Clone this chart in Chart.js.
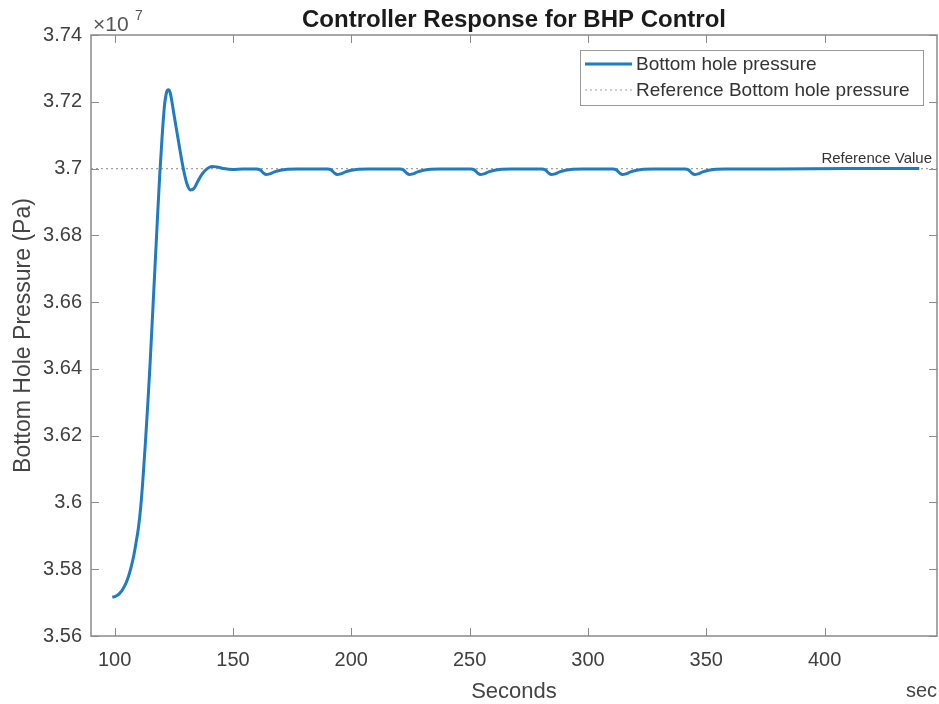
<!DOCTYPE html>
<html>
<head>
<meta charset="utf-8">
<title>Controller Response for BHP Control</title>
<script src="https://cdn.jsdelivr.net/npm/chart.js@4.4.1/dist/chart.umd.min.js"></script>
<style>
html, body { margin: 0; padding: 0; background: #fff; }
#wrap { width: 939px; height: 704px; }
</style>
</head>
<body>
<div id="wrap"><canvas id="bhpChart" width="939" height="704"></canvas></div>
<script>
// time in seconds, bottom hole pressure in units of 1e7 Pa
const timeSec = [
  99, 100, 101, 102, 103, 104, 105, 106, 107, 108, 109, 110, 111, 112, 113, 114, 115, 116, 117, 118, 119, 120, 121, 122,
  122.7, 123.5, 125, 127, 129, 130.5, 132, 133.5, 135, 137, 139, 141, 143, 146, 150, 154, 157,
  160, 161.5, 163, 164, 165.5, 167.5, 170, 173, 177,
  190, 191.5, 193, 194, 195.5, 197.5, 200, 203, 207,
  220.5, 222, 223.5, 224.5, 226, 228, 230.5, 233.5, 237.5,
  250.5, 252, 253.5, 254.5, 256, 258, 260.5, 263.5, 267.5,
  280.5, 282, 283.5, 284.5, 286, 288, 290.5, 293.5, 297.5,
  310.5, 312, 313.5, 314.5, 316, 318, 320.5, 323.5, 327.5,
  341, 342.5, 344, 345, 346.5, 348.5, 351, 354, 358,
  380, 410, 440
];
const bhpE7 = [
  3.5716, 3.5718, 3.5721, 3.5727, 3.5735, 3.5747, 3.5762, 3.5782, 3.5808, 3.5838, 3.5878, 3.5922, 3.5985, 3.6075, 3.6180, 3.6295, 3.6420, 3.6560, 3.6700, 3.6840, 3.6975, 3.7090, 3.7185, 3.7230,
  3.7236, 3.7226, 3.7165, 3.7080, 3.7000, 3.6955, 3.6936, 3.6940, 3.6960, 3.6984, 3.6999, 3.7006, 3.7005, 3.7000, 3.6997, 3.6999, 3.6999,
  3.6999, 3.6996, 3.6986, 3.6982, 3.6984, 3.6990, 3.6995, 3.6998, 3.6999,
  3.6999, 3.6996, 3.6986, 3.6982, 3.6984, 3.6990, 3.6995, 3.6998, 3.6999,
  3.6999, 3.6996, 3.6986, 3.6982, 3.6984, 3.6990, 3.6995, 3.6998, 3.6999,
  3.6999, 3.6996, 3.6986, 3.6982, 3.6984, 3.6990, 3.6995, 3.6998, 3.6999,
  3.6999, 3.6996, 3.6986, 3.6982, 3.6984, 3.6990, 3.6995, 3.6998, 3.6999,
  3.6999, 3.6996, 3.6986, 3.6982, 3.6984, 3.6990, 3.6995, 3.6998, 3.6999,
  3.6999, 3.6996, 3.6986, 3.6982, 3.6984, 3.6990, 3.6995, 3.6998, 3.6999,
  3.6999, 3.7000, 3.7000
];
const refTime = [90, 447.5];
const refBhpE7 = [3.7, 3.7];

const xTickValues = [100, 150, 200, 250, 300, 350, 400];
const yTickValues = [3.56, 3.58, 3.6, 3.62, 3.64, 3.66, 3.68, 3.7, 3.72, 3.74];
const yTickLabels = ['3.56', '3.58', '3.6', '3.62', '3.64', '3.66', '3.68', '3.7', '3.72', '3.74'];

const FONT = '"Liberation Sans", Arial, sans-serif';
const BLUE = '#1f7bc2';
const AXIS_GRAY = '#8a8a8a';

// MATLAB-like box, inward ticks, titles and legend
const matlabLook = {
  id: 'matlabLook',
  afterDraw(chart) {
    const { ctx, chartArea: a, scales: { x, y } } = chart;
    ctx.save();

    // box
    ctx.strokeStyle = AXIS_GRAY;
    ctx.lineWidth = 1.5;
    ctx.strokeRect(a.left, a.top, a.right - a.left, a.bottom - a.top);

    // inward ticks on all four sides
    ctx.lineWidth = 1;
    ctx.beginPath();
    xTickValues.forEach(v => {
      const px = Math.round(x.getPixelForValue(v)) + 0.5;
      ctx.moveTo(px, a.bottom); ctx.lineTo(px, a.bottom - 8);
      ctx.moveTo(px, a.top); ctx.lineTo(px, a.top + 8);
    });
    yTickValues.forEach(v => {
      const py = Math.round(y.getPixelForValue(v)) + 0.5;
      ctx.moveTo(a.left, py); ctx.lineTo(a.left + 8, py);
      ctx.moveTo(a.right, py); ctx.lineTo(a.right - 8, py);
    });
    ctx.stroke();

    // title
    ctx.fillStyle = '#1a1a1a';
    ctx.font = 'bold 24px ' + FONT;
    ctx.textAlign = 'center';
    ctx.textBaseline = 'alphabetic';
    ctx.fillText('Controller Response for BHP Control', (a.left + a.right) / 2, 27);

    // exponent label
    ctx.fillStyle = '#555';
    ctx.textAlign = 'left';
    ctx.font = '21px ' + FONT;
    ctx.fillText('\u00d710', a.left + 2, 31);
    ctx.font = '14px ' + FONT;
    ctx.fillText('7', a.left + 44, 20);

    // axis titles
    ctx.fillStyle = '#444';
    ctx.font = '22px ' + FONT;
    ctx.textAlign = 'center';
    ctx.fillText('Seconds', (a.left + a.right) / 2, 698);
    ctx.textAlign = 'right';
    ctx.font = '20px ' + FONT;
    ctx.fillText('sec', a.right, 697);

    ctx.save();
    ctx.translate(30, (a.top + a.bottom) / 2);
    ctx.rotate(-Math.PI / 2);
    ctx.textAlign = 'center';
    ctx.font = '23px ' + FONT;
    ctx.fillText('Bottom Hole Pressure (Pa)', 0, 0);
    ctx.restore();

    // reference annotation
    ctx.font = '15px ' + FONT;
    ctx.textAlign = 'right';
    ctx.fillStyle = '#333';
    ctx.fillText('Reference Value', a.right - 5, y.getPixelForValue(3.7) - 6);

    // legend
    const lx = a.right - 357, ly = a.top + 15, lw = 343, lh = 55;
    ctx.fillStyle = '#fff';
    ctx.fillRect(lx, ly, lw, lh);
    ctx.strokeStyle = '#999';
    ctx.lineWidth = 1;
    ctx.strokeRect(lx + 0.5, ly + 0.5, lw, lh);
    chart.data.datasets.forEach((ds, i) => {
      const ry = ly + 14 + i * 26;
      ctx.save();
      ctx.strokeStyle = ds.borderColor;
      ctx.lineWidth = ds.borderWidth;
      ctx.setLineDash(ds.borderDash || []);
      ctx.beginPath();
      ctx.moveTo(lx + 5, ry); ctx.lineTo(lx + 52, ry);
      ctx.stroke();
      ctx.restore();
      ctx.fillStyle = '#333';
      ctx.font = '19px ' + FONT;
      ctx.textAlign = 'left';
      ctx.textBaseline = 'middle';
      ctx.fillText(ds.label, lx + 56, ry + 1);
    });

    ctx.restore();
  }
};

new Chart(document.getElementById('bhpChart'), {
  type: 'line',
  data: {
    datasets: [
      {
        label: 'Bottom hole pressure',
        data: timeSec.map((t, i) => ({ x: t, y: bhpE7[i] })),
        borderColor: BLUE,
        borderWidth: 3,
        pointRadius: 0,
        cubicInterpolationMode: 'monotone',
        fill: false,
        order: 1
      },
      {
        label: 'Reference Bottom hole pressure',
        data: refTime.map((t, i) => ({ x: t, y: refBhpE7[i] })),
        borderColor: '#a0a0a0',
        borderWidth: 1.2,
        borderDash: [2, 3],
        pointRadius: 0,
        fill: false,
        order: 2
      }
    ]
  },
  options: {
    responsive: false,
    animation: false,
    layout: { padding: { top: 35, right: 2, left: 0, bottom: 0 } },
    plugins: {
      legend: { display: false },
      title: { display: false },
      tooltip: { enabled: false }
    },
    scales: {
      x: {
        type: 'linear',
        min: 90,
        max: 447.5,
        grid: { display: false, drawTicks: false },
        border: { display: false },
        afterBuildTicks: s => { s.ticks = xTickValues.map(v => ({ value: v })); },
        afterFit: s => { s.height = 68; },
        ticks: {
          color: '#404040',
          font: { family: FONT, size: 20 },
          padding: 12,
          maxRotation: 0,
          callback: v => String(v)
        }
      },
      y: {
        type: 'linear',
        min: 3.56,
        max: 3.74,
        grid: { display: false, drawTicks: false },
        border: { display: false },
        afterBuildTicks: s => { s.ticks = yTickValues.map(v => ({ value: v })); },
        afterFit: s => { s.width = 91; },
        ticks: {
          color: '#404040',
          font: { family: FONT, size: 20 },
          padding: 9,
          callback: (v) => {
            const i = yTickValues.findIndex(t => Math.abs(t - v) < 1e-6);
            return i >= 0 ? yTickLabels[i] : '';
          }
        }
      }
    }
  },
  plugins: [matlabLook]
});
</script>
</body>
</html>
